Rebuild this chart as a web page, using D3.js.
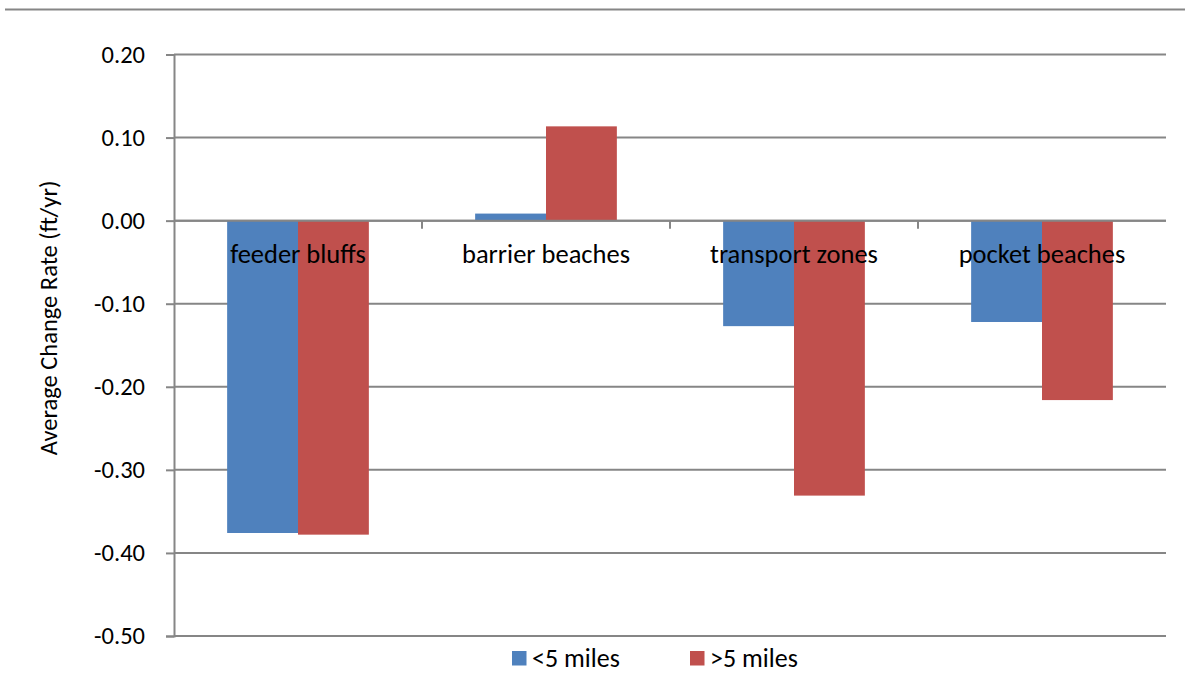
<!DOCTYPE html>
<html>
<head>
<meta charset="utf-8">
<script src="https://cdn.jsdelivr.net/npm/d3@7"></script>
<style>
  html, body { margin: 0; padding: 0; background: #fff; }
  svg { display: block; font-family: Carlito, Lato, "Liberation Sans", sans-serif; }
</style>
</head>
<body>
<svg id="chart" width="1185" height="690"></svg>
<script>
// Shoreline change rates by shore type, split by distance
const categories = ["feeder bluffs", "barrier beaches", "transport zones", "pocket beaches"];
const seriesNames = ["<5 miles", ">5 miles"];
const under5 = [-0.376, 0.0085, -0.127, -0.122];
const over5 = [-0.378, 0.1135, -0.331, -0.216];
const yTicks = [0.2, 0.1, 0.0, -0.1, -0.2, -0.3, -0.4, -0.5];
const colors = ["#4F81BD", "#C0504D"];

const svg = d3.select("#chart");
const W = 1185, H = 690;
const m = { left: 174, right: W - 1166, top: 54.5, bottom: H - 636 };
const gray = "#868686";

// frame line across the top
svg.append("line")
  .attr("x1", 5).attr("x2", W).attr("y1", 9.5).attr("y2", 9.5)
  .attr("stroke", gray).attr("stroke-width", 2);

const y = d3.scaleLinear().domain([-0.5, 0.2]).range([H - m.bottom, m.top]);
const x0 = d3.scaleBand().domain(categories).range([m.left, W - m.right]).paddingInner(0).paddingOuter(0);
const groupPad = 0.75 / 3.5; // gap width 150% of one bar
const x1 = d3.scaleBand().domain(seriesNames)
  .range([x0.bandwidth() * groupPad, x0.bandwidth() * (1 - groupPad)]);

// horizontal gridlines
svg.append("g").selectAll("line").data(yTicks).join("line")
  .attr("x1", m.left).attr("x2", W - m.right)
  .attr("y1", d => y(d)).attr("y2", d => y(d))
  .attr("stroke", gray).attr("stroke-width", 2);

// bars
const rows = categories.map((c, i) => ({ cat: c, vals: [under5[i], over5[i]] }));
svg.append("g").selectAll("g").data(rows).join("g")
  .attr("transform", d => `translate(${x0(d.cat)},0)`)
  .selectAll("rect").data(d => d.vals.map((v, j) => ({ v, s: seriesNames[j], j })))
  .join("rect")
  .attr("x", d => x1(d.s))
  .attr("width", x1.bandwidth())
  .attr("y", d => Math.min(y(d.v), y(0)))
  .attr("height", d => Math.abs(y(d.v) - y(0)))
  .attr("fill", d => colors[d.j]);

// zero line drawn over bars
svg.append("line")
  .attr("x1", m.left).attr("x2", W - m.right)
  .attr("y1", y(0)).attr("y2", y(0))
  .attr("stroke", gray).attr("stroke-width", 2);

// y axis with plain hyphen minus signs
const fmt = d => d3.format(".2f")(d).replace("\u2212", "-");
const yAxis = d3.axisLeft(y).tickValues(yTicks).tickFormat(fmt).tickSize(8).tickPadding(21);
const ya = svg.append("g").attr("transform", `translate(${m.left},0)`).call(yAxis);
ya.select(".domain").attr("stroke", gray).attr("stroke-width", 2);
ya.selectAll(".tick line").attr("stroke", gray).attr("stroke-width", 2);
ya.selectAll(".tick text").attr("font-size", 24.5).attr("fill", "#000")
  .attr("font-family", "Carlito, Lato, sans-serif");

// category tick marks along the zero line
svg.append("g").selectAll("line").data(categories.slice(1)).join("line")
  .attr("x1", d => x0(d)).attr("x2", d => x0(d))
  .attr("y1", y(0)).attr("y2", y(0) + 8)
  .attr("stroke", gray).attr("stroke-width", 2);

// category labels
svg.append("g").selectAll("text").data(categories).join("text")
  .attr("x", d => x0(d) + x0.bandwidth() / 2)
  .attr("y", y(0) + 42)
  .attr("text-anchor", "middle")
  .attr("font-size", 26.5)
  .attr("fill", "#000")
  .text(d => d);

// y axis title
svg.append("text")
  .attr("transform", `translate(57,318) rotate(-90)`)
  .attr("text-anchor", "middle")
  .attr("font-size", 24.5)
  .attr("fill", "#000")
  .text("Average Change Rate (ft/yr)");

// legend
const legendX = [512, 690];
const lg = svg.append("g").selectAll("g").data(seriesNames).join("g")
  .attr("transform", (d, i) => `translate(${legendX[i]},651)`);
lg.append("rect").attr("width", 14.5).attr("height", 14.5).attr("fill", (d, i) => colors[i]);
lg.append("text").attr("x", 20).attr("y", 15.5).attr("font-size", 26).attr("fill", "#000").text(d => d);
</script>
</body>
</html>
